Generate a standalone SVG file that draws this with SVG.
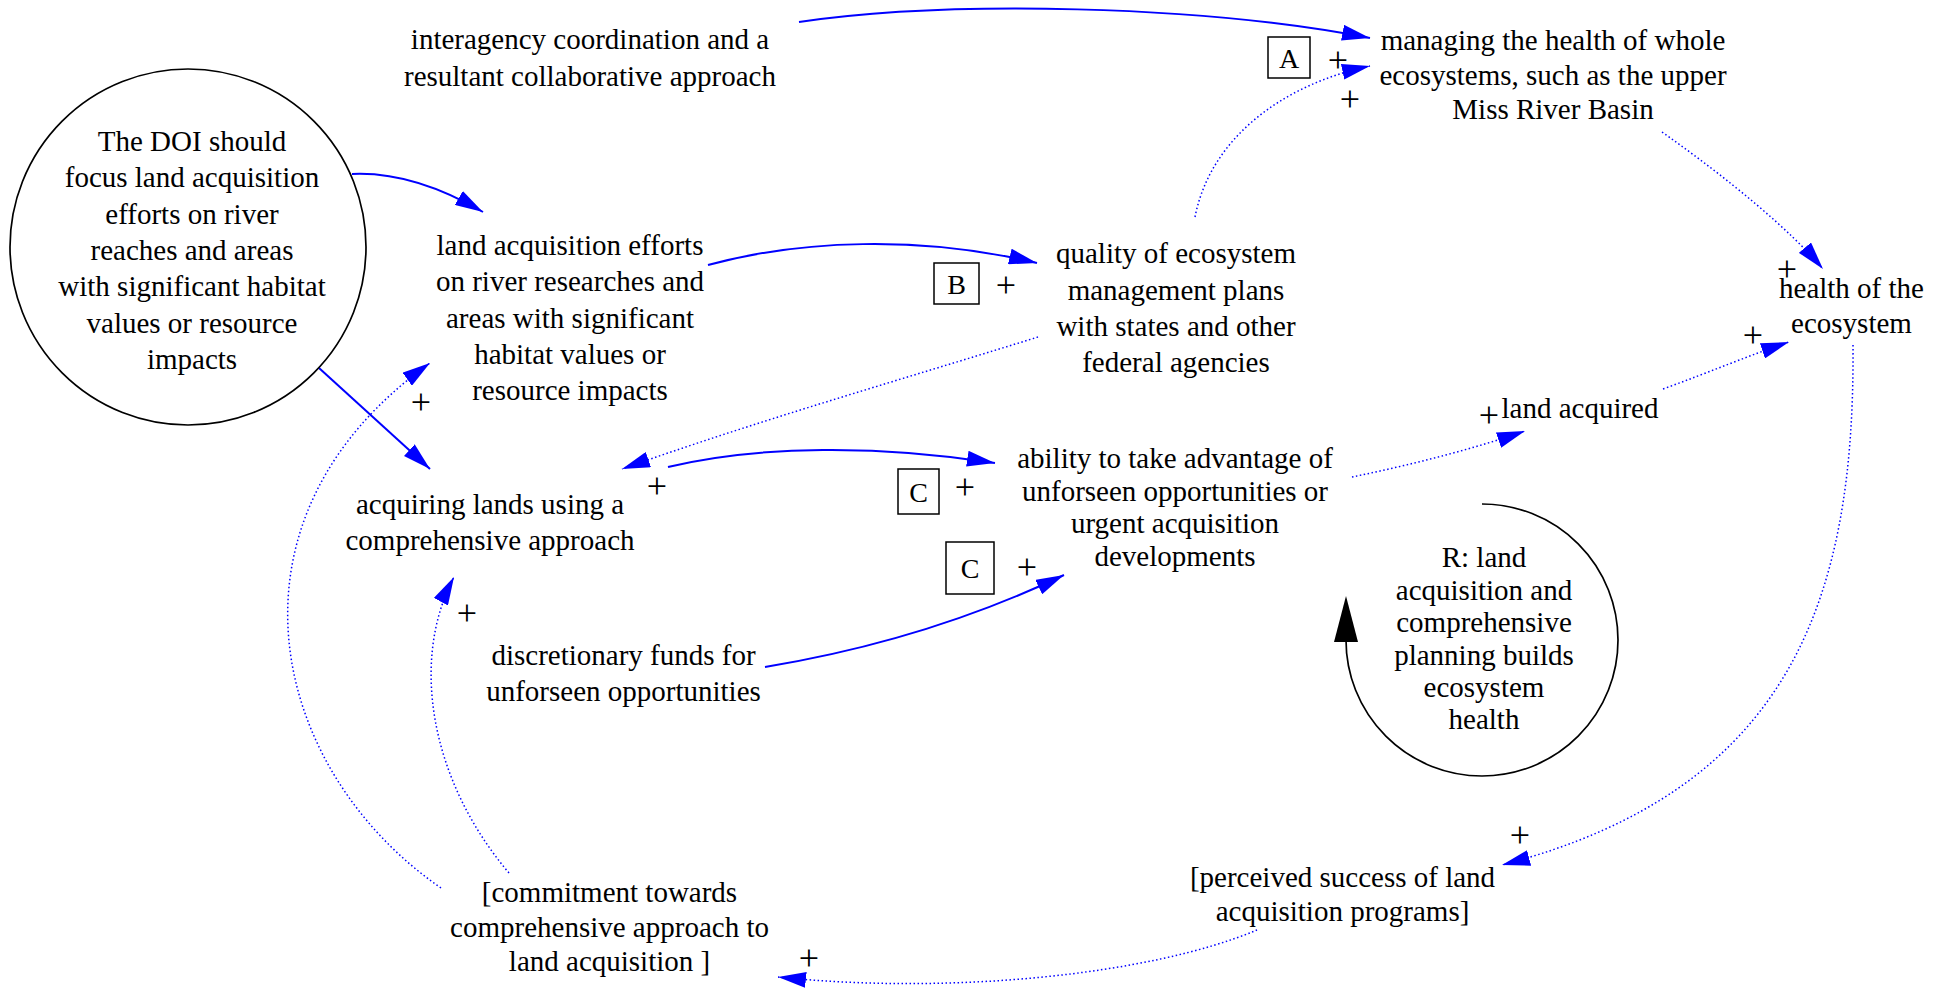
<svg xmlns="http://www.w3.org/2000/svg" width="1948" height="992" viewBox="0 0 1948 992">
<defs>
<style>
text{font-family:"Liberation Serif","Times New Roman",serif;font-size:29px;fill:#000;text-anchor:middle}
.pl{font-size:36px}
.lt{font-size:28px}
.box{fill:none;stroke:#000;stroke-width:1.5}
.solid{fill:none;stroke:#0000ff;stroke-width:2}
.dot{fill:none;stroke:#0000ff;stroke-width:1.5;stroke-dasharray:1.5,2.5}
</style>
<marker id="ah" markerUnits="userSpaceOnUse" markerWidth="28" markerHeight="16" refX="28" refY="8" orient="auto" viewBox="0 0 28 16">
<path d="M0,0 L28,8 L0,16 z" fill="#0000ff"/>
</marker>
</defs>
<rect width="1948" height="992" fill="#fff"/>

<g id="connectors">
<path class="solid" d="M799,22 C950,0 1200,5 1370,38" marker-end="url(#ah)"/>
<path class="solid" d="M352,174 C395,172 440,187 483,212" marker-end="url(#ah)"/>
<path class="solid" d="M319,368 L430,469" marker-end="url(#ah)"/>
<path class="solid" d="M708,265 C800,240 920,235 1037,263" marker-end="url(#ah)"/>
<path class="solid" d="M668,467 C760,445 880,445 995,463" marker-end="url(#ah)"/>
<path class="solid" d="M765,667 C880,648 980,615 1064,575" marker-end="url(#ah)"/>
<path class="dot" d="M1195,217 C1210,140 1280,85 1370,66" marker-end="url(#ah)"/>
<path class="dot" d="M1662,132 C1730,180 1790,230 1823,269" marker-end="url(#ah)"/>
<path class="dot" d="M1038,337 C900,380 760,420 622,469" marker-end="url(#ah)"/>
<path class="dot" d="M1352,477 C1410,465 1470,450 1525,431" marker-end="url(#ah)"/>
<path class="dot" d="M1663,389 C1710,372 1750,355 1789,342" marker-end="url(#ah)"/>
<path class="dot" d="M1853,345 C1855,600 1790,790 1502,865" marker-end="url(#ah)"/>
<path class="dot" d="M1257,930 C1150,975 950,995 778,977" marker-end="url(#ah)"/>
<path class="dot" d="M441,888 C270,770 210,520 430,363" marker-end="url(#ah)"/>
<path class="dot" d="M509,873 C430,780 410,660 454,577" marker-end="url(#ah)"/>
<text class="pl" x="1338" y="72">+</text>
<text class="pl" x="1350" y="111">+</text>
<text class="pl" x="1006" y="297">+</text>
<text class="pl" x="965" y="499">+</text>
<text class="pl" x="1027" y="579">+</text>
<text class="pl" x="657" y="498">+</text>
<text class="pl" x="421" y="414">+</text>
<text class="pl" x="467" y="625">+</text>
<text class="pl" x="1787" y="281">+</text>
<text class="pl" x="1753" y="347">+</text>
<text class="pl" x="1489" y="427">+</text>
<text class="pl" x="1520" y="847">+</text>
<text class="pl" x="809" y="970">+</text>
</g>

<g id="node-doi">
<circle cx="188" cy="247" r="178" fill="none" stroke="#000" stroke-width="1.7"/>
<text x="192" y="150.7">The DOI should</text>
<text x="192" y="187.1">focus land acquisition</text>
<text x="192" y="223.5">efforts on river</text>
<text x="192" y="259.9">reaches and areas</text>
<text x="192" y="296.3">with significant habitat</text>
<text x="192" y="332.7">values or resource</text>
<text x="192" y="369.1">impacts</text>
</g>

<g id="node-interagency">
<text x="590" y="49">interagency coordination and a</text>
<text x="590" y="86">resultant collaborative approach</text>
</g>

<g id="node-managing">
<text x="1553" y="50">managing the health of whole</text>
<text x="1553" y="85">ecosystems, such as the upper</text>
<text x="1553" y="119.3">Miss River Basin</text>
</g>

<g id="node-landeffort">
<text x="570" y="255">land acquisition efforts</text>
<text x="570" y="291.3">on river researches and</text>
<text x="570" y="327.6">areas with significant</text>
<text x="570" y="364">habitat values or</text>
<text x="570" y="400">resource impacts</text>
</g>

<g id="node-quality">
<text x="1176" y="263.3">quality of ecosystem</text>
<text x="1176" y="299.5">management plans</text>
<text x="1176" y="335.5">with states and other</text>
<text x="1176" y="371.7">federal agencies</text>
</g>

<g id="node-health">
<text x="1851.5" y="297.7">health of the</text>
<text x="1851.5" y="333">ecosystem</text>
</g>

<g id="node-landacquired">
<text x="1580" y="418">land acquired</text>
</g>

<g id="node-acquiring">
<text x="490" y="514">acquiring lands using a</text>
<text x="490" y="550">comprehensive approach</text>
</g>

<g id="node-ability">
<text x="1175" y="468.3">ability to take advantage of</text>
<text x="1175" y="500.7">unforseen opportunities or</text>
<text x="1175" y="533">urgent acquisition</text>
<text x="1175" y="565.7">developments</text>
</g>

<g id="node-discretionary">
<text x="623.5" y="665">discretionary funds for</text>
<text x="623.5" y="701">unforseen opportunities</text>
</g>

<g id="node-commitment">
<text x="609.5" y="902">[commitment towards</text>
<text x="609.5" y="936.5">comprehensive approach to</text>
<text x="609.5" y="971">land acquisition ]</text>
</g>

<g id="node-perceived">
<text x="1342.5" y="887">[perceived success of land</text>
<text x="1342.5" y="920.7">acquisition programs]</text>
</g>

<g id="node-loop">
<path d="M1482,504 A136,136 0 1 1 1346,640" fill="none" stroke="#000" stroke-width="1.7"/>
<polygon points="1346,596 1334,642 1358,642" fill="#000"/>
<text x="1484" y="567">R: land</text>
<text x="1484" y="599.5">acquisition and</text>
<text x="1484" y="632">comprehensive</text>
<text x="1484" y="664.5">planning builds</text>
<text x="1484" y="697">ecosystem</text>
<text x="1484" y="729">health</text>
</g>

<g id="node-A">
<rect class="box" x="1268" y="37" width="42" height="41"/>
<text class="lt" x="1289" y="68">A</text>
</g>
<g id="node-B">
<rect class="box" x="934" y="263" width="45" height="41"/>
<text class="lt" x="956.5" y="293.5">B</text>
</g>
<g id="node-C1">
<rect class="box" x="898" y="469" width="41" height="45"/>
<text class="lt" x="918.5" y="501.5">C</text>
</g>
<g id="node-C2">
<rect class="box" x="946" y="542" width="48" height="52"/>
<text class="lt" x="970" y="578">C</text>
</g>
</svg>
